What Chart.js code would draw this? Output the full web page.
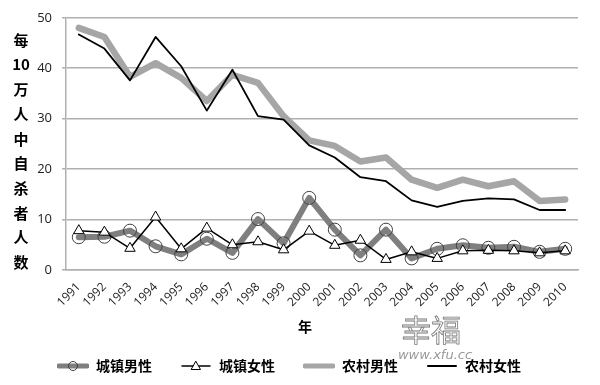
<!DOCTYPE html>
<html>
<head>
<meta charset="utf-8">
<script src="https://cdn.jsdelivr.net/npm/chart.js@4.4.1/dist/chart.umd.min.js"></script>
<style>
  html, body { margin: 0; padding: 0; background: #fff; }
  #wrap { width: 600px; height: 385px; position: relative; }
</style>
</head>
<body>
<div id="wrap"><canvas id="chart"></canvas></div>
<script>
// 数据 - 每10万人中自杀者人数
var years = ["1991", "1992", "1993", "1994", "1995", "1996", "1997", "1998", "1999", "2000",
             "2001", "2002", "2003", "2004", "2005", "2006", "2007", "2008", "2009", "2010"];
var urbanMale   = [6.5, 6.6, 7.8, 4.7, 3.1, 6.2, 3.4, 10.1, 5.3, 14.3, 8.0, 2.9, 8.0, 2.3, 4.2, 4.9, 4.4, 4.6, 3.6, 4.2];
var urbanFemale = [7.8, 7.5, 4.3, 10.5, 4.2, 8.3, 5.0, 5.6, 4.0, 7.7, 4.9, 5.9, 2.1, 3.6, 2.3, 3.8, 3.9, 3.8, 3.4, 3.8];
var ruralMale   = [48.0, 46.2, 38.3, 41.0, 38.1, 33.5, 38.7, 37.1, 30.5, 25.7, 24.6, 21.5, 22.3, 17.9, 16.3, 17.9, 16.6, 17.6, 13.7, 14.0];
var ruralFemale = [46.7, 43.9, 37.6, 46.2, 40.4, 31.6, 39.7, 30.5, 29.8, 24.7, 22.3, 18.4, 17.6, 13.8, 12.5, 13.7, 14.2, 14.0, 11.9, 11.9];
var seriesNames = ["城镇男性", "城镇女性", "农村男性", "农村女性"];
var yTitle = ["每", "10", "万", "人", "中", "自", "杀", "者", "人", "数"];
var xTitle = "年";

var cjk = "'Noto Sans CJK SC', 'Noto Sans', sans-serif";

// 图例小图标
function makeIcon(kind) {
    var c = document.createElement('canvas');
    c.width = 32; c.height = 14;
    var g = c.getContext('2d');
    g.lineCap = 'round';
    if (kind == 0 || kind == 2) {
        g.strokeStyle = kind == 0 ? '#7f7f7f' : '#a6a6a6';
        g.lineWidth = 5;
    } else {
        g.strokeStyle = '#000';
        g.lineWidth = kind == 1 ? 1.5 : 2;
    }
    g.beginPath(); g.moveTo(2, 7); g.lineTo(30, 7); g.stroke();
    if (kind == 0) {
        g.lineWidth = 1; g.strokeStyle = '#404040';
        g.beginPath(); g.arc(16, 7, 4.5, 0, Math.PI * 2); g.stroke();
    }
    if (kind == 1) {
        g.fillStyle = '#fff'; g.lineWidth = 1; g.strokeStyle = '#000';
        g.beginPath(); g.moveTo(16, 2.5); g.lineTo(20.5, 10.5); g.lineTo(11.5, 10.5); g.closePath();
        g.fill(); g.stroke();
    }
    return c;
}
var icons = [makeIcon(0), makeIcon(1), makeIcon(2), makeIcon(3)];

// 坐标轴标题和水印
var extraText = {
    id: 'extraText',
    afterDraw: function(chart) {
        var ctx = chart.ctx;
        ctx.save();
        ctx.fillStyle = '#000';
        ctx.textAlign = 'center';
        ctx.textBaseline = 'middle';
        ctx.font = 'bold 15px ' + cjk;
        for (var i = 0; i < yTitle.length; i++) {
            ctx.fillText(yTitle[i], 21, 40 + i * 24.7);
        }
        ctx.font = 'bold 14px ' + cjk;
        ctx.fillText(xTitle, 305, 327);
        // 水印
        ctx.font = '30px ' + cjk;
        ctx.lineWidth = 0.8;
        ctx.strokeStyle = '#777';
        ctx.strokeText('幸福', 431, 330);
        ctx.font = 'italic 13px "DejaVu Sans"';
        ctx.fillStyle = '#999';
        ctx.fillText('www.xfu.cc', 435, 356);
        ctx.restore();
    }
};

var ctx = document.getElementById('chart');
var chart = new Chart(ctx, {
    type: 'line',
    data: {
        labels: years,
        datasets: [{
            label: seriesNames[0],
            data: urbanMale,
            borderColor: '#7f7f7f',
            borderWidth: 6,
            pointStyle: 'circle',
            pointRadius: 6.5,
            pointBorderWidth: 1,
            pointBorderColor: '#404040',
            pointBackgroundColor: 'rgba(0,0,0,0)',
            order: 2
        }, {
            label: seriesNames[1],
            data: urbanFemale,
            borderColor: '#000',
            borderWidth: 1.5,
            pointStyle: 'triangle',
            pointRadius: 6,
            pointBorderWidth: 1,
            pointBorderColor: '#000',
            pointBackgroundColor: '#fff',
            order: 1
        }, {
            label: seriesNames[2],
            data: ruralMale,
            borderColor: '#a6a6a6',
            borderWidth: 6.5,
            pointRadius: 0,
            order: 3
        }, {
            label: seriesNames[3],
            data: ruralFemale,
            borderColor: '#000',
            borderWidth: 1.8,
            pointRadius: 0,
            order: 0
        }]
    },
    options: {
        responsive: true,
        maintainAspectRatio: false,
        animation: false,
        layout: { padding: { top: 14, right: 22, left: 0, bottom: 2 } },
        elements: { line: { tension: 0, borderCapStyle: 'round', borderJoinStyle: 'round' } },
        scales: {
            x: {
                offset: true,
                grid: { display: false, drawTicks: false },
                border: { display: true, color: '#b0b0b0', width: 1.5 },
                ticks: {
                    autoSkip: false,
                    minRotation: 45,
                    maxRotation: 45,
                    padding: 10,
                    color: '#222',
                    font: { family: "'Open Sans', sans-serif", size: 12 }
                },
                afterFit: function(scale) { scale.height = 61; }
            },
            y: {
                min: 0,
                max: 50,
                ticks: {
                    stepSize: 10,
                    padding: 10,
                    color: '#222',
                    font: { family: "'Open Sans', sans-serif", size: 13 }
                },
                grid: { color: '#b0b0b0', lineWidth: 1.5, tickLength: 4 },
                border: { display: true, color: '#b0b0b0', width: 1.5 },
                afterFit: function(scale) { scale.width = 66; }
            }
        },
        plugins: {
            tooltip: { enabled: false },
            legend: {
                position: 'bottom',
                labels: {
                    usePointStyle: true,
                    pointStyleWidth: 32,
                    padding: 28,
                    color: '#000',
                    font: { family: cjk, size: 14, weight: 'bold' },
                    sort: function(a, b) { return a.datasetIndex - b.datasetIndex; },
                    generateLabels: function(chart) {
                        var items = Chart.defaults.plugins.legend.labels.generateLabels(chart);
                        items.forEach(function(it) { it.pointStyle = icons[it.datasetIndex]; });
                        return items;
                    }
                }
            }
        }
    },
    plugins: [extraText]
});
</script>
</body>
</html>
